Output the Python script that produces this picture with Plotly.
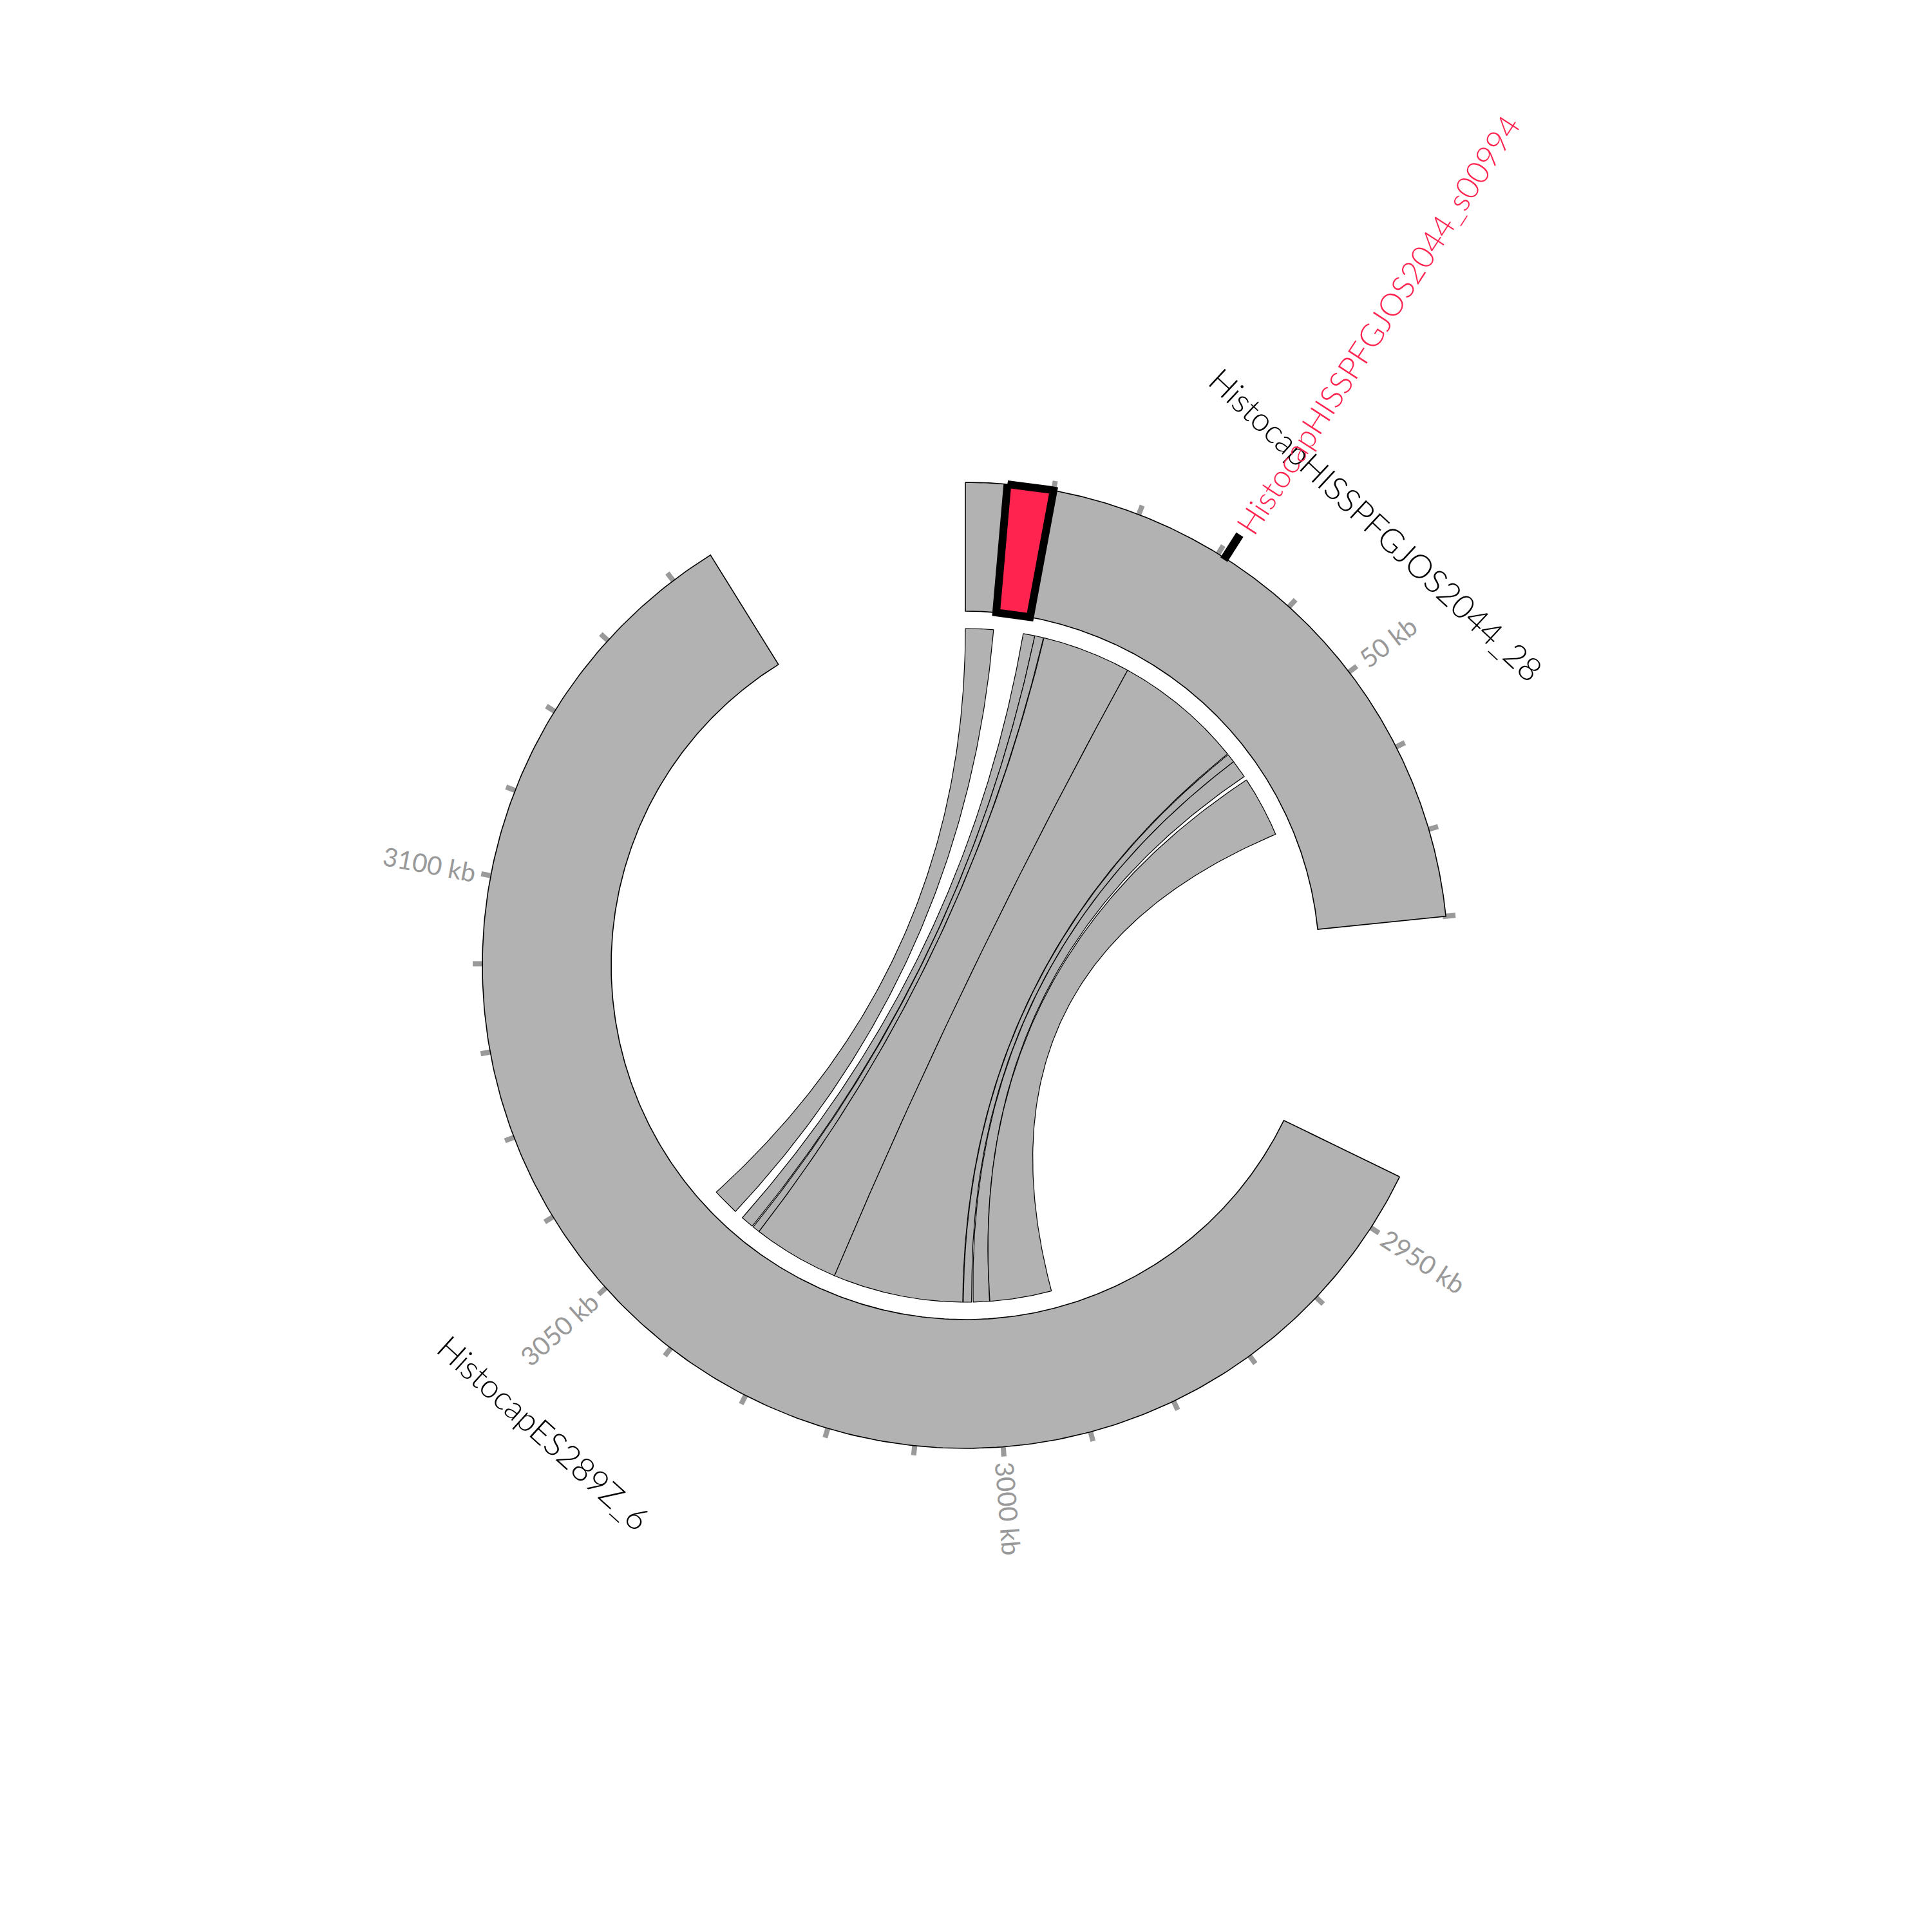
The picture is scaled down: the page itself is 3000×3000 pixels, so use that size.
import numpy as np
import plotly.graph_objects as go

# ---------------- data ----------------
chrom_names = ["HistocapHISSPFGJOS2044_28", "HistocapES289Z_6"]
chrom_lo_kb = [0.0, 2943.4]
chrom_hi_kb = [80.0, 3145.1]

# synteny links: chr28 interval <-> chr6 interval (kb)
link_src_lo = [0.0, 9.41, 11.31, 12.83, 27.38, 48.75, 50.19, 53.80]
link_src_hi = [4.56, 11.31, 12.74, 27.38, 48.60, 50.19, 53.14, 63.78]
link_tgt_lo = [3045.2, 3041.6, 3040.2, 3026.0, 3004.7, 3003.2, 3000.3, 2990.2]
link_tgt_hi = [3049.6, 3043.7, 3041.4, 3040.2, 3026.0, 3004.6, 3003.0, 3000.3]

highlight_lo_kb = 4.75
highlight_hi_kb = 10.0
gene_name = "HistocapHISSPFGJOS2044_s00994"
gene_pos_kb = 30.9

tick_step_kb = 10
label_step_kb = 50

# ---------------- layout constants ----------------
DEG_PER_KB = 1.052
GAP_DEG = 31.8
R_OUT, R_IN, R_LINK = 750, 550, 523
GRAY = "#b2b2b2"
RED = "#ff2450"
FONT = "Lato"
CX, CY = -9, 9  # view offset

start_angles = []
a = 0.0
for lo, hi in zip(chrom_lo_kb, chrom_hi_kb):
    start_angles.append(a)
    a += (hi - lo) * DEG_PER_KB + GAP_DEG


def ang(ci, pos):
    return start_angles[ci] + (pos - chrom_lo_kb[ci]) * DEG_PER_KB


def xy(r, deg):
    t = np.radians(deg)
    return r * np.sin(t), r * np.cos(t)


def sector(a0, a1, r0, r1):
    t = np.linspace(a0, a1, 300)
    xo, yo = xy(r1, t)
    xi, yi = xy(r0, t[::-1])
    x = np.concatenate([xo, xi, xo[:1]])
    y = np.concatenate([yo, yi, yo[:1]])
    return x, y


def bez(p0, p2, n=120):
    t = np.linspace(0, 1, n)
    x = (1 - t) ** 2 * p0[0] + t ** 2 * p2[0]
    y = (1 - t) ** 2 * p0[1] + t ** 2 * p2[1]
    return x, y


def ribbon(a1, a2, b1, b2):
    parts_x, parts_y = [], []
    t = np.linspace(a1, a2, 80)
    x, y = xy(R_LINK, t); parts_x.append(x); parts_y.append(y)
    x, y = bez(xy(R_LINK, a2), xy(R_LINK, b1)); parts_x.append(x); parts_y.append(y)
    t = np.linspace(b1, b2, 80)
    x, y = xy(R_LINK, t); parts_x.append(x); parts_y.append(y)
    x, y = bez(xy(R_LINK, b2), xy(R_LINK, a1)); parts_x.append(x); parts_y.append(y)
    return np.concatenate(parts_x), np.concatenate(parts_y)


fig = go.Figure()

# links
for s0, s1, t0, t1 in zip(link_src_lo, link_src_hi, link_tgt_lo, link_tgt_hi):
    x, y = ribbon(ang(0, s0), ang(0, s1), ang(1, t0), ang(1, t1))
    fig.add_trace(go.Scatter(x=x, y=y, mode="lines", fill="toself", fillcolor=GRAY,
                             line=dict(color="black", width=1.2), hoverinfo="skip"))

# ticks
tx, ty = [], []
labels = []
for ci, (lo, hi) in enumerate(zip(chrom_lo_kb, chrom_hi_kb)):
    p = (np.floor(lo / tick_step_kb) + 1) * tick_step_kb
    while p <= hi + 1e-6:
        d = ang(ci, p)
        x0, y0 = xy(745, d)
        x1, y1 = xy(765, d)
        tx += [x0, x1, None]
        ty += [y0, y1, None]
        if abs(p % label_step_kb) < 1e-6:
            labels.append((d, f"{int(p)} kb"))
        p += tick_step_kb
fig.add_trace(go.Scatter(x=tx, y=ty, mode="lines", line=dict(color="#9a9a9a", width=8),
                         hoverinfo="skip"))

# chromosome rings
for ci, (lo, hi) in enumerate(zip(chrom_lo_kb, chrom_hi_kb)):
    x, y = sector(ang(ci, lo), ang(ci, hi), R_IN, R_OUT)
    fig.add_trace(go.Scatter(x=x, y=y, mode="lines", fill="toself", fillcolor=GRAY,
                             line=dict(color="black", width=1.6), hoverinfo="skip"))

# highlighted region
x, y = sector(ang(0, highlight_lo_kb), ang(0, highlight_hi_kb), R_IN, R_OUT)
fig.add_trace(go.Scatter(x=x, y=y, mode="lines", fill="toself", fillcolor=RED,
                         line=dict(color="black", width=12), hoverinfo="skip"))

# gene marker
gd = ang(0, gene_pos_kb)
x0, y0 = xy(747, gd)
x1, y1 = xy(793, gd)
fig.add_trace(go.Scatter(x=[x0, x1], y=[y0, y1], mode="lines",
                         line=dict(color="black", width=13), hoverinfo="skip"))

annotations = []
# tick labels
for d, txt in labels:
    rc = 775 + 0.5 * len(txt) * 20.5
    cx, cy = xy(rc, d)
    dd = d % 360
    rot = dd - 90 if dd < 180 else dd - 270
    annotations.append(dict(x=cx, y=cy, text=txt, showarrow=False, textangle=rot,
                            xanchor="center", yanchor="middle",
                            font=dict(family=FONT, size=40, color="#999999", weight=400)))

# chromosome labels
label_r = [936, 977]
label_shift_deg = [0.9, 0.0]
for ci, name in enumerate(chrom_names):
    mid = (ang(ci, chrom_lo_kb[ci]) + ang(ci, chrom_hi_kb[ci])) / 2 + label_shift_deg[ci]
    cx, cy = xy(label_r[ci], mid)
    dd = mid % 360
    rot = dd if (dd < 90 or dd > 270) else dd - 180
    annotations.append(dict(x=cx, y=cy, text=name, showarrow=False, textangle=rot,
                            xanchor="center", yanchor="middle",
                            font=dict(family=FONT, size=51, color="black", weight=300)))

# gene label
cx, cy = xy(1183, gd + 0.25)
annotations.append(dict(x=cx, y=cy, text=gene_name, showarrow=False, textangle=gd - 89.5,
                        xanchor="center", yanchor="middle",
                        font=dict(family=FONT, size=49, color=RED, weight=300)))

fig.update_layout(
    width=3000, height=3000,
    margin=dict(l=0, r=0, t=0, b=0),
    paper_bgcolor="white", plot_bgcolor="white",
    showlegend=False,
    xaxis=dict(range=[-1500 - CX, 1500 - CX], visible=False, fixedrange=True),
    yaxis=dict(range=[-1500 - CY, 1500 - CY], visible=False, fixedrange=True),
    annotations=annotations,
)

fig.write_html("out.html")
